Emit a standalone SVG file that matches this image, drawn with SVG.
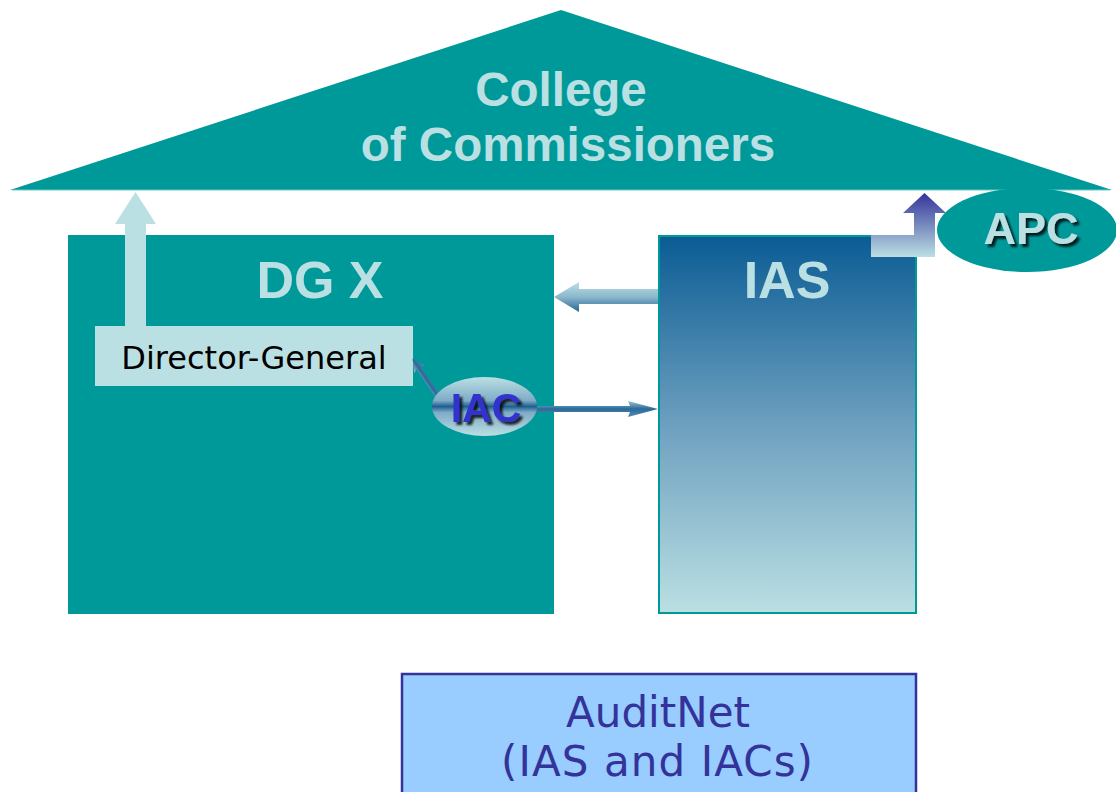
<svg xmlns="http://www.w3.org/2000/svg" width="1116" height="792" viewBox="0 0 1116 792">
<defs>
<linearGradient id="gIAS" x1="0" y1="0" x2="0" y2="1">
<stop offset="0" stop-color="#0a5c94"/>
<stop offset="0.5" stop-color="#6d9fbf"/>
<stop offset="1" stop-color="#bbe0e3"/>
</linearGradient>
<linearGradient id="gLeft" x1="0" y1="0" x2="0" y2="1">
<stop offset="0" stop-color="#bbe0e3"/>
<stop offset="0.5" stop-color="#8ab8cc"/>
<stop offset="1" stop-color="#2a6594"/>
</linearGradient>
<linearGradient id="gAPC" x1="0" y1="0" x2="0" y2="1">
<stop offset="0" stop-color="#333399"/>
<stop offset="1" stop-color="#bbe0e3"/>
</linearGradient>
<linearGradient id="gIAC" x1="0" y1="0" x2="0" y2="1">
<stop offset="0" stop-color="#bbe0e3"/>
<stop offset="0.4" stop-color="#7fabc6"/>
<stop offset="0.5" stop-color="#1e5f92"/>
<stop offset="0.6" stop-color="#7fabc6"/>
<stop offset="1" stop-color="#bbe0e3"/>
</linearGradient>
<linearGradient id="gThin" x1="0" y1="0" x2="0" y2="1">
<stop offset="0" stop-color="#9cc4d4"/>
<stop offset="0.5" stop-color="#2a6a9a"/>
<stop offset="1" stop-color="#5a8cb4"/>
</linearGradient>
<filter id="shadow" x="-20%" y="-20%" width="140%" height="150%">
<feGaussianBlur in="SourceAlpha" stdDeviation="1"/>
<feOffset dx="3" dy="3" result="o"/>
<feFlood flood-color="#000" flood-opacity="0.8"/>
<feComposite in2="o" operator="in"/>
<feMerge><feMergeNode/><feMergeNode in="SourceGraphic"/></feMerge>
</filter>
</defs>
<style>
.bold{font-family:"Liberation Sans",Arial,sans-serif;font-weight:bold;text-anchor:middle}
.light{fill:#bbe0e3}
.verd{font-family:"DejaVu Sans",Verdana,sans-serif;text-anchor:middle}
</style>
<rect width="1116" height="792" fill="#ffffff"/>

<g id="college">
<polygon points="10,190 561,10 1112,190" fill="#009999"/>
<line x1="12" y1="190" x2="1110" y2="190" stroke="#6cc6c6" stroke-width="1.2"/>
<text class="bold light" x="561" y="106" font-size="47.5">College</text>
<text class="bold light" x="568" y="161" font-size="47.5">of Commissioners</text>
</g>

<g id="dgx">
<rect x="68" y="235" width="486" height="379" fill="#009999"/>
<text class="bold light" x="320" y="298" font-size="52">DG X</text>
</g>

<g id="ias">
<rect x="659" y="236" width="257" height="377" fill="url(#gIAS)" stroke="#009999" stroke-width="2"/>
<text class="bold light" x="787" y="298" font-size="52">IAS</text>
</g>

<g id="director-general">
<rect x="95" y="326" width="318" height="60" fill="#bbe0e3"/>
<text class="verd" x="254" y="369" font-size="32" fill="#000000">Director-General</text>
</g>

<g id="connectors">
<polygon points="125,326 125,224 115,224 135.5,192 156,224 146,224 146,326" fill="#bbe0e3"/>
<polygon points="658,289 579,289 579,282 554,297 579,312 579,304 658,304" fill="url(#gLeft)"/>
<polygon points="871,235 914,235 914,213 903,213 924.5,193 946,213 935,213 935,257 871,257" fill="url(#gAPC)"/>
<polygon points="537,406 630,406 628,401 658,409 628,417 630,412 537,412" fill="url(#gThin)"/>
<g transform="translate(441,401) rotate(-124)">
<polygon points="0,-2.6 40,-2.6 38,-6.5 51,0 38,6.5 40,2.6 0,2.6" fill="url(#gThin)"/>
</g>
</g>

<g id="apc">
<ellipse cx="1027" cy="230" rx="90" ry="42" fill="#009999"/>
<text class="bold light" x="1031" y="244" font-size="45" filter="url(#shadow)">APC</text>
</g>

<g id="iac">
<ellipse cx="484.5" cy="406.5" rx="52.5" ry="29.5" fill="url(#gIAC)"/>
<text class="bold" x="486" y="422" font-size="41" fill="#3333cc" filter="url(#shadow)">IAC</text>
</g>

<g id="auditnet">
<rect x="402" y="674" width="514" height="130" fill="#99ccff" stroke="#333399" stroke-width="2.5"/>
<text class="verd" x="658" y="727" font-size="42" fill="#333399">AuditNet</text>
<text class="verd" x="657" y="776" font-size="42" fill="#333399" textLength="312" lengthAdjust="spacing">(IAS and IACs)</text>
</g>
</svg>
